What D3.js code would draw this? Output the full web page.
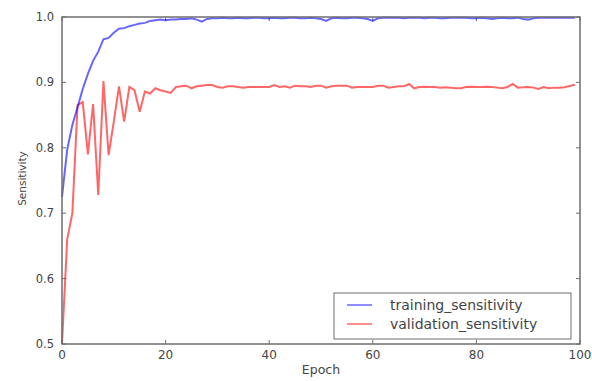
<!DOCTYPE html>
<html>
<head>
<meta charset="utf-8">
<script src="https://cdn.jsdelivr.net/npm/d3@7"></script>
<style>
  body { margin: 0; background: #fff; }
  text { font-family: "DejaVu Sans", sans-serif; fill: #444; }
</style>
</head>
<body>
<div id="chart"></div>
<script>
// epochs 0..99
const epochs = d3.range(0, 100);

const trainingSensitivity = [
  0.725, 0.797, 0.835, 0.862, 0.890, 0.913, 0.933, 0.947, 0.966, 0.968,
  0.976, 0.982, 0.983, 0.986, 0.988, 0.990, 0.991, 0.994, 0.995, 0.996,
  0.995, 0.996, 0.996, 0.997, 0.997, 0.998, 0.996, 0.993, 0.997, 0.998,
  0.998, 0.999, 0.998, 0.998, 0.999, 0.998, 0.998, 0.999, 0.999, 0.998,
  0.998, 0.999, 0.998, 0.998, 0.999, 0.999, 0.998, 0.998, 0.999, 0.998,
  0.997, 0.994, 0.998, 0.999, 0.998, 0.998, 0.999, 0.999, 0.998, 0.997,
  0.994, 0.998, 0.999, 0.999, 0.999, 0.999, 0.998, 0.999, 0.999, 0.999,
  0.998, 0.999, 0.999, 0.998, 0.998, 0.999, 0.999, 0.999, 0.999, 0.998,
  0.998, 0.999, 0.998, 0.997, 0.998, 0.999, 0.998, 0.998, 0.999, 0.997,
  0.996, 0.998, 0.999, 0.999, 0.999, 0.999, 0.999, 0.999, 0.999, 0.999
];

const validationSensitivity = [
  0.500, 0.660, 0.700, 0.865, 0.870, 0.790, 0.867, 0.728, 0.902, 0.789,
  0.840, 0.894, 0.840, 0.893, 0.888, 0.855, 0.886, 0.883, 0.891, 0.888,
  0.886, 0.884, 0.893, 0.894, 0.895, 0.891, 0.894, 0.895, 0.896, 0.896,
  0.893, 0.892, 0.894, 0.894, 0.893, 0.892, 0.893, 0.893, 0.893, 0.893,
  0.893, 0.896, 0.893, 0.894, 0.892, 0.895, 0.894, 0.894, 0.893, 0.895,
  0.895, 0.892, 0.894, 0.895, 0.895, 0.895, 0.892, 0.893, 0.893, 0.893,
  0.893, 0.895, 0.895, 0.892, 0.893, 0.894, 0.894, 0.8975, 0.891, 0.893,
  0.8935, 0.893, 0.893, 0.892, 0.8925, 0.892, 0.891, 0.891, 0.893, 0.8935,
  0.893, 0.893, 0.8935, 0.893, 0.892, 0.891, 0.893, 0.8975, 0.892, 0.8925,
  0.893, 0.892, 0.890, 0.893, 0.891, 0.892, 0.892, 0.8925, 0.8945, 0.8965
];

const xTicks = [0, 20, 40, 60, 80, 100];
const yTicks = [0.5, 0.6, 0.7, 0.8, 0.9, 1.0];
const seriesNames = ["training_sensitivity", "validation_sensitivity"];

// set the dimensions and margins of the graph
const W = 592, H = 381;
const margin = {top: 17, right: 12, bottom: 37, left: 62},
      width = W - margin.left - margin.right,
      height = H - margin.top - margin.bottom;

const svg = d3.select("#chart")
  .append("svg")
    .attr("width", W)
    .attr("height", H)
  .append("g")
    .attr("transform", `translate(${margin.left},${margin.top})`);

const x = d3.scaleLinear().domain([0, 100]).range([0, width]);
const y = d3.scaleLinear().domain([0.5, 1.0]).range([height, 0]);

const frameColor = "#6e6e6e";

// ticks pointing inward on all four sides
const tickLen = 4;
svg.append("g")
  .selectAll("line.xb")
  .data(xTicks)
  .join("line")
    .attr("x1", d => x(d)).attr("x2", d => x(d))
    .attr("y1", height).attr("y2", height - tickLen)
    .attr("stroke", frameColor);
svg.append("g")
  .selectAll("line.xt")
  .data(xTicks)
  .join("line")
    .attr("x1", d => x(d)).attr("x2", d => x(d))
    .attr("y1", 0).attr("y2", tickLen)
    .attr("stroke", frameColor);
svg.append("g")
  .selectAll("line.yl")
  .data(yTicks)
  .join("line")
    .attr("x1", 0).attr("x2", tickLen)
    .attr("y1", d => y(d)).attr("y2", d => y(d))
    .attr("stroke", frameColor);
svg.append("g")
  .selectAll("line.yr")
  .data(yTicks)
  .join("line")
    .attr("x1", width).attr("x2", width - tickLen)
    .attr("y1", d => y(d)).attr("y2", d => y(d))
    .attr("stroke", frameColor);

// tick labels
svg.append("g")
  .selectAll("text")
  .data(xTicks)
  .join("text")
    .attr("x", d => x(d))
    .attr("y", height + 15)
    .attr("text-anchor", "middle")
    .style("font-size", "12px")
    .text(d => d);

svg.append("g")
  .selectAll("text")
  .data(yTicks)
  .join("text")
    .attr("x", -8)
    .attr("y", d => y(d))
    .attr("dy", "0.35em")
    .attr("text-anchor", "end")
    .style("font-size", "11.5px")
    .text(d => d.toFixed(1));

// axis titles
svg.append("text")
  .attr("x", width / 2)
  .attr("y", height + 30)
  .attr("text-anchor", "middle")
  .style("font-size", "12.5px")
  .text("Epoch");

svg.append("text")
  .attr("transform", `translate(${-36},${height / 2 - 2})rotate(-90)`)
  .attr("text-anchor", "middle")
  .style("font-size", "10.5px")
  .text("Sensitivity");

// lines
const line = d3.line()
  .x((d, i) => x(epochs[i]))
  .y(d => y(d));

svg.append("path")
  .datum(validationSensitivity)
  .attr("fill", "none")
  .attr("stroke", "#ff0000")
  .attr("stroke-opacity", 0.6)
  .attr("stroke-width", 2)
  .attr("d", line);

svg.append("path")
  .datum(trainingSensitivity)
  .attr("fill", "none")
  .attr("stroke", "#0000ff")
  .attr("stroke-opacity", 0.6)
  .attr("stroke-width", 2)
  .attr("d", line);

// frame
svg.append("rect")
  .attr("width", width)
  .attr("height", height)
  .attr("fill", "none")
  .attr("stroke", frameColor)
  .attr("stroke-width", 1.5);

// legend
const legend = svg.append("g")
  .attr("transform", `translate(${334 - margin.left},${293 - margin.top})`);

legend.append("rect")
  .attr("width", 237)
  .attr("height", 46)
  .attr("fill", "#fff")
  .attr("stroke", frameColor)
  .attr("stroke-width", 1);

const colors = ["#0000ff", "#ff0000"];
const item = legend.selectAll("g.item")
  .data(seriesNames)
  .join("g")
    .attr("transform", (d, i) => `translate(0,${12 + i * 19})`);

item.append("line")
  .attr("x1", 13).attr("x2", 38)
  .attr("stroke", (d, i) => colors[i])
  .attr("stroke-opacity", 0.6)
  .attr("stroke-width", 1.5);

item.append("text")
  .attr("x", 56)
  .attr("dy", "0.35em")
  .style("font-size", "14px")
  .text(d => d);
</script>
</body>
</html>
